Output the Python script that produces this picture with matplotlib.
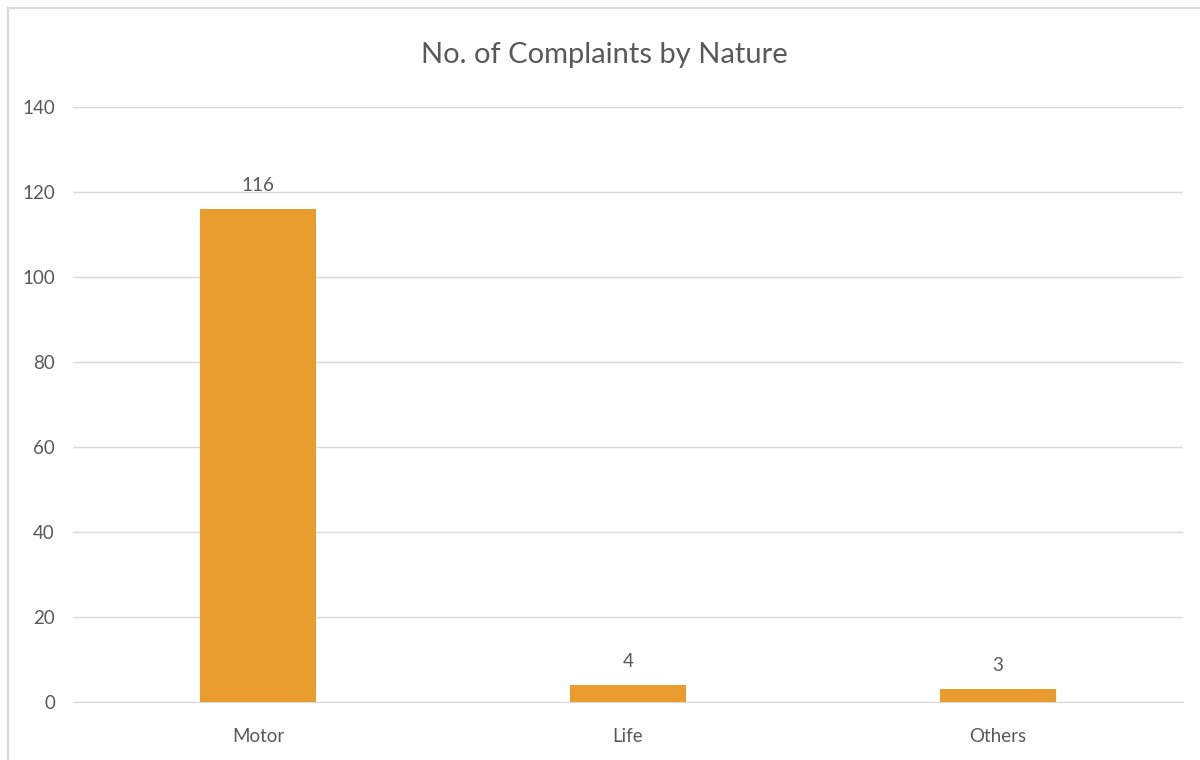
import matplotlib
matplotlib.use('Agg')
import matplotlib.pyplot as plt
from matplotlib.patches import Rectangle

categories = ['Motor', 'Life', 'Others']
complaints = [116, 4, 3]
y_ticks = [0, 20, 40, 60, 80, 100, 120, 140]

bar_color = '#E99C2E'
text_color = '#595959'
grid_color = '#D9D9D9'

plt.rcParams['font.family'] = ['Lato', 'DejaVu Sans']

fig = plt.figure(figsize=(12, 7.6), dpi=100)
ax = fig.add_axes([73 / 1200, 1 - 702 / 760, 1110 / 1200, 595 / 760])

# outer chart frame, runs off the right and bottom edges
frame = Rectangle((8 / 1200, -0.05), 1.2, 1 - 8 / 760 + 0.05,
                  transform=fig.transFigure, fill=False,
                  edgecolor='#D9D9D9', linewidth=1.5)
fig.patches.append(frame)

x = range(len(categories))
bars = ax.bar(x, complaints, width=0.313, color=bar_color, zorder=3)

for rect, val in zip(bars, complaints):
    ax.text(rect.get_x() + rect.get_width() / 2, val + 3.5, str(val),
            ha='center', va='bottom', fontsize=13.5, color=text_color)

ax.set_xlim(-0.5, 2.5)
ax.set_ylim(0, 140)
ax.set_yticks(y_ticks)
ax.set_xticks(list(x))
ax.set_xticklabels(categories)
ax.tick_params(axis='both', length=0, labelsize=13.5, labelcolor=text_color)
ax.tick_params(axis='x', pad=19)
ax.tick_params(axis='y', pad=13)

ax.grid(axis='y', color=grid_color, linewidth=1, zorder=0)
for s in ['top', 'right', 'left']:
    ax.spines[s].set_visible(False)
ax.spines['bottom'].set_color(grid_color)

fig.text(0.5 + 8 / 2400, 1 - 55 / 760, 'No. of Complaints by Nature',
         ha='center', va='center', fontsize=21, color=text_color)

fig.savefig('out.png', dpi=100)
